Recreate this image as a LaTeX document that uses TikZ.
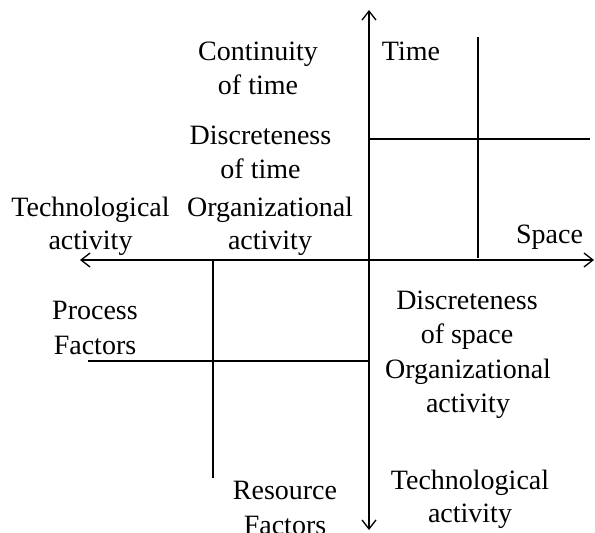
\documentclass[tikz,border=0pt]{standalone}
\usepackage{fontspec}
\setmainfont{Liberation Serif}
\usetikzlibrary{arrows.meta}
\begin{document}
\begin{tikzpicture}[x=1pt,y=-1pt,
  axis/.style={line width=1.3pt,-{Straight Barb[length=9pt,width=14pt,line width=1.3pt]}},
  axis2/.style={line width=1.3pt,{Straight Barb[length=9pt,width=14pt,line width=1.3pt]}-{Straight Barb[length=9pt,width=14pt,line width=1.3pt]}},
  grid/.style={line width=1.3pt},
  lbl/.style={anchor=base,inner sep=0pt,font=\fontsize{28}{34}\selectfont}]
\useasboundingbox (0,0) rectangle (595,533);
\fill[white] (0,0) rectangle (595,533);

% axes
\coordinate (top) at (369,10);
\coordinate (bottom) at (369,530);
\coordinate (left) at (80,260);
\coordinate (right) at (594,260);
\coordinate (origin) at (369,260);
\draw[axis2] (bottom) -- (top);
\draw[axis2] (left) -- (right);

% upper right division
\coordinate (ta) at (478,37);
\coordinate (tb) at (478,258);
\coordinate (tc) at (369,139);
\coordinate (td) at (590,139);
\draw[grid] (ta) -- (tb);
\draw[grid] (tc) -- (td);

% lower left division
\coordinate (la) at (213,260);
\coordinate (lb) at (213,478);
\coordinate (lc) at (88,361);
\coordinate (ld) at (369,361);
\draw[grid] (la) -- (lb);
\draw[grid] (lc) -- (ld);

% labels
\node[lbl] (conta) at (258,60) {Continuity};
\node[lbl] (contb) at (258,94) {of time};
\node[lbl] (disca) at (260.5,144) {Discreteness};
\node[lbl] (discb) at (260.5,178) {of time};
\node[lbl] (time) at (411,60) {Time};
\node[lbl] (space) at (549.5,243) {Space};
\node[lbl] (techa) at (90.5,216) {Technological};
\node[lbl] (techb) at (90.5,249) {activity};
\node[lbl] (orga) at (270,216) {Organizational};
\node[lbl] (orgb) at (270,249) {activity};
\node[lbl] (proca) at (95,319) {Process};
\node[lbl] (procb) at (95,354) {Factors};
\node[lbl] (dsa) at (467,309) {Discreteness};
\node[lbl] (dsb) at (467,343) {of space};
\node[lbl] (dsc) at (468,378) {Organizational};
\node[lbl] (dsd) at (468,412) {activity};
\node[lbl] (bta) at (470,489) {Technological};
\node[lbl] (btb) at (470,522) {activity};
\node[lbl] (resa) at (285,499) {Resource};
\node[lbl] (resb) at (285,534) {Factors};
\end{tikzpicture}
\end{document}
